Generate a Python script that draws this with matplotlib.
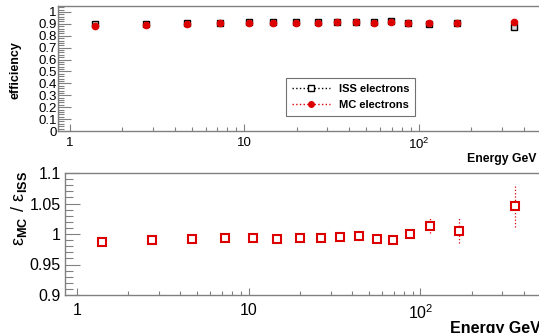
import numpy as np
import matplotlib
matplotlib.use("Agg")
import matplotlib.pyplot as plt
from matplotlib.lines import Line2D
from matplotlib.ticker import FixedLocator, MultipleLocator, NullFormatter

plt.rcParams['font.family'] = ['Liberation Sans', 'DejaVu Sans']
plt.rcParams['mathtext.fontset'] = 'custom'
plt.rcParams['mathtext.rm'] = 'Liberation Sans'
plt.rcParams['mathtext.bf'] = 'Liberation Sans:bold'

# energy bin centres (GeV)
energy = [1.4, 2.75, 4.7, 7.25, 10.6, 14.7, 19.9, 26.4, 34.1, 43.8,
          55.6, 69.7, 86.8, 114, 167, 353]
# efficiencies
eff_iss = [0.895, 0.903, 0.908, 0.910, 0.914, 0.915, 0.916, 0.916, 0.916, 0.916,
           0.917, 0.925, 0.908, 0.895, 0.905, 0.872]
eff_mc = [0.883, 0.894, 0.901, 0.905, 0.909, 0.908, 0.910, 0.910, 0.912, 0.913,
          0.910, 0.916, 0.908, 0.907, 0.910, 0.912]
# ratio MC / ISS
ratio = [0.987, 0.990, 0.992, 0.994, 0.994, 0.992, 0.993, 0.993, 0.9956, 0.9967,
         0.992, 0.990, 1.000, 1.0137, 1.0055, 1.046]
ratio_err = [0.001, 0.001, 0.001, 0.001, 0.001, 0.001, 0.001, 0.001, 0.001, 0.001,
             0.001, 0.001, 0.002, 0.012, 0.020, 0.034]

W, H = 539, 333
fig = plt.figure(figsize=(W / 100, H / 100), dpi=100)


def box(x0, y0, x1, y1):
    # pixel box (top-left origin) -> figure fraction rect
    return [x0 / W, 1 - y1 / H, (x1 - x0) / W, (y1 - y0) / H]


def px(x, y):
    return x / W, 1 - y / H


axis_col = '0.5'
red = '#dd0000'


def style(ax, fs, ypad, xpad, ylen):
    ax.set_xscale('log')
    ax.set_xlim(0.855, 490)
    ax.spines['right'].set_visible(False)
    for s in ['left', 'bottom', 'top']:
        ax.spines[s].set_color(axis_col)
        ax.spines[s].set_linewidth(1.0)
    ax.xaxis.set_major_locator(FixedLocator([1, 10, 100]))
    ax.xaxis.set_minor_locator(FixedLocator(
        [m * 10 ** d for d in range(0, 3) for m in range(2, 10) if m * 10 ** d < 490]))
    ax.xaxis.set_minor_formatter(NullFormatter())
    ax.set_xticklabels(['1', '10', r'$\mathregular{10^{2}}$'])
    ax.tick_params(axis='x', which='major', direction='in', length=5, width=0.8,
                   color=axis_col, labelsize=fs, pad=xpad, top=False)
    ax.tick_params(axis='x', which='minor', direction='in', length=3, width=0.8,
                   color=axis_col, top=False)
    ax.tick_params(axis='y', which='major', direction='in', length=ylen, width=0.8,
                   color=axis_col, labelsize=fs, pad=ypad, right=False)
    ax.tick_params(axis='y', which='minor', direction='in', length=ylen / 2, width=0.8,
                   color=axis_col, right=False)


# ---- top panel: efficiencies
ax1 = fig.add_axes(box(58, 6, 539, 131))
ax1.plot(energy, eff_iss, linestyle='none', marker='s', ms=4.8, mfc='0.85',
         mec='black', mew=1.0)
ax1.plot(energy, eff_mc, linestyle='none', marker='o', ms=4.5, mfc=red, mec=red)
ax1.set_ylim(0, 1.05)
ax1.yaxis.set_minor_locator(MultipleLocator(0.02))
ax1.set_yticks(np.arange(0, 1.01, 0.1),
               ['0'] + ['%.1f' % v for v in np.arange(0.1, 0.95, 0.1)] + ['1'])
style(ax1, 9.5, 1, 4, 9)

handles = [Line2D([], [], color='black', ls=':', lw=1, marker='s', ms=4,
                  mfc='white', mec='black'),
           Line2D([], [], color=red, ls=':', lw=1, marker='o', ms=4,
                  mfc=red, mec=red)]
leg = ax1.legend(handles, ['ISS electrons', 'MC electrons'],
                 loc='upper left', bbox_to_anchor=px(286, 78),
                 bbox_transform=fig.transFigure,
                 prop={'weight': 'bold', 'size': 8}, frameon=True, fancybox=False,
                 handlelength=3.5, borderpad=0.5, labelspacing=0.6,
                 handletextpad=0.8, borderaxespad=0)
leg.get_frame().set_edgecolor('0.3')
leg.get_frame().set_linewidth(0.8)
leg.get_frame().set_boxstyle('square', pad=0)

fig.text(*px(536, 159), 'Energy GeV', ha='right', va='center',
         fontsize=8.8, fontweight='bold')
fig.text(*px(16, 70), 'efficiency', ha='center', va='center', rotation=90,
         fontsize=9, fontweight='bold')

# ---- bottom panel: ratio
ax2 = fig.add_axes(box(65, 173, 539, 295))
ax2.errorbar(energy, ratio, yerr=ratio_err, fmt='s', ms=6, mfc='white',
             mec=red, mew=1.5, ecolor=red, elinewidth=0.9, capsize=0,
             linestyle='none')
for line in ax2.containers[0].lines[2]:
    line.set_linestyle(':')
ax2.set_ylim(0.9, 1.1)
ax2.yaxis.set_minor_locator(MultipleLocator(0.01))
ax2.set_yticks([0.9, 0.95, 1.0, 1.05, 1.1], ['0.9', '0.95', '1', '1.05', '1.1'])
style(ax2, 11.5, 3, 6, 11)

fig.text(*px(541, 321), 'Energy GeV', ha='right', va='top',
         fontsize=11.5, fontweight='bold')
fig.text(*px(19, 208), r'$\mathregular{\epsilon_{\mathbf{MC}}\ /\ \epsilon_{\mathbf{ISS}}}$',
         ha='center', va='center', rotation=90, fontsize=13)

fig.savefig('out.png', dpi=100)
